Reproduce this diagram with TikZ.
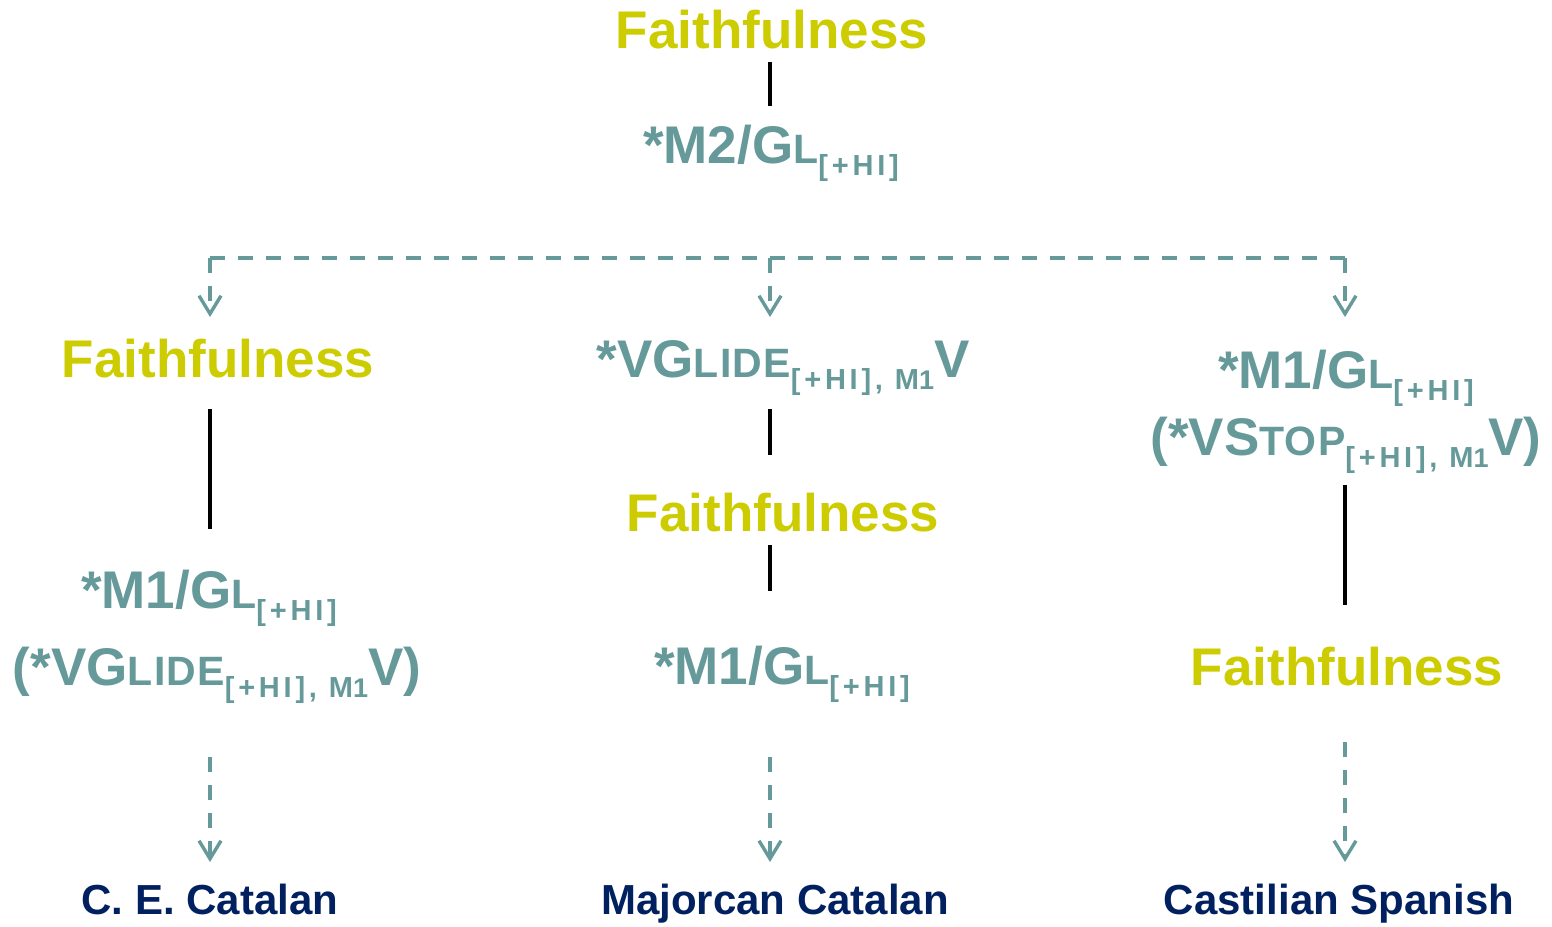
\documentclass[tikz,border=0pt]{standalone}
\usepackage{fontspec}
\setmainfont{Liberation Sans}
\newfontfamily\subfont[LetterSpace=13]{Liberation Sans}
\newfontfamily\capfont[LetterSpace=3]{Liberation Sans}
\usetikzlibrary{arrows.meta,calc}
\definecolor{faithcol}{HTML}{CCCC00}
\definecolor{markcol}{HTML}{669999}
\definecolor{langcol}{HTML}{002060}
\newcommand{\smallcap}[1]{{\fontsize{20.5}{20.5}\capfont\bfseries #1}}
\newcommand{\lowsub}[1]{\raisebox{-6pt}{\fontsize{14.5}{14.5}\subfont\bfseries #1}}
\newcommand{\tinyone}{{\fontsize{13.5}{13.5}\selectfont 1}}
\tikzset{
  txt/.style={inner sep=0pt, anchor=base, font=\fontsize{26.5}{28}\selectfont\bfseries},
  faith/.style={txt, text=faithcol},
  markt/.style={txt, text=markcol},
  langt/.style={inner sep=0pt, anchor=base, font=\fontsize{21}{23}\selectfont\bfseries, text=langcol},
  rank/.style={draw=black, line width=2.3pt},
  dashlink/.style={draw=markcol, line width=1.7pt, dash pattern=on 7.5pt off 6.5pt},
  dasharrow/.style={dashlink, -{Straight Barb[length=9pt,width=11pt,line width=1.7pt]}}
}
\begin{document}
\begin{tikzpicture}[x=0.5pt,y=-0.5pt]
\useasboundingbox (0,0) rectangle (1552,926);
% column x positions
\coordinate (x1) at (210,0);
\coordinate (x2) at (770,0);
\coordinate (x3) at (1345,0);
% top
\node[faith] (f0) at (772,48) {Faithfulness};
\node[markt] (m2) at (771,163) {*M2/G\smallcap{L}\lowsub{[+HI]}};
% column 1
\node[faith] (f1) at (218,377) {Faithfulness};
\node[markt] (c1a) at (209,608) {*M1/G\smallcap{L}\lowsub{[+HI]}};
\node[markt] (c1b) at (217,685) {(*VG\smallcap{LIDE}\lowsub{[+HI], M\tinyone}V)};
\node[langt] (l1) at (210,914) {C. E. Catalan};
% column 2
\node[markt] (c2a) at (783,377) {*VG\smallcap{LIDE}\lowsub{[+HI], M\tinyone}V};
\node[faith] (f2) at (783,531) {Faithfulness};
\node[markt] (c2b) at (782,684) {*M1/G\smallcap{L}\lowsub{[+HI]}};
\node[langt] (l2) at (775,914) {Majorcan Catalan};
% column 3
\node[markt] (c3a) at (1346,388) {*M1/G\smallcap{L}\lowsub{[+HI]}};
\node[markt] (c3b) at (1346,455) {(*VS\smallcap{TOP}\lowsub{[+HI], M\tinyone}V)};
\node[faith] (f3) at (1347,685) {Faithfulness};
\node[langt] (l3) at (1339,914) {Castilian Spanish};
% dashed bracket
\coordinate (j1) at (x1 |- 0,258);
\coordinate (j2) at (x2 |- 0,258);
\coordinate (j3) at (x3 |- 0,258);
% solid ranking lines
\draw[rank] ($(x2 |- f0.base)+(0,14)$) -- ($(x2 |- m2.base)+(0,-57)$);
\draw[rank] ($(x1 |- f1.base)+(0,32)$) -- ($(x1 |- c1a.base)+(0,-79)$);
\draw[rank] ($(x2 |- c2a.base)+(0,32)$) -- ($(x2 |- f2.base)+(0,-76)$);
\draw[rank] ($(x2 |- f2.base)+(0,14)$) -- ($(x2 |- c2b.base)+(0,-93)$);
\draw[rank] ($(x3 |- c3b.base)+(0,30)$) -- ($(x3 |- f3.base)+(0,-80)$);
% dashed tree
\draw[dashlink] (j1) -- (j3);
\draw[dasharrow] (j1) -- ($(x1 |- f1.base)+(0,-60)$);
\draw[dasharrow] (j2) -- ($(x2 |- c2a.base)+(0,-60)$);
\draw[dasharrow] (j3) -- ($(x3 |- c3a.base)+(0,-71)$);
% dashed arrows to languages
\draw[dasharrow] ($(x1 |- c1b.base)+(0,72)$) -- ($(x1 |- l1.base)+(0,-52)$);
\draw[dasharrow] ($(x2 |- c2b.base)+(0,73)$) -- ($(x2 |- l2.base)+(0,-52)$);
\draw[dasharrow] ($(x3 |- f3.base)+(0,57)$) -- ($(x3 |- l3.base)+(0,-52)$);
\end{tikzpicture}
\end{document}
